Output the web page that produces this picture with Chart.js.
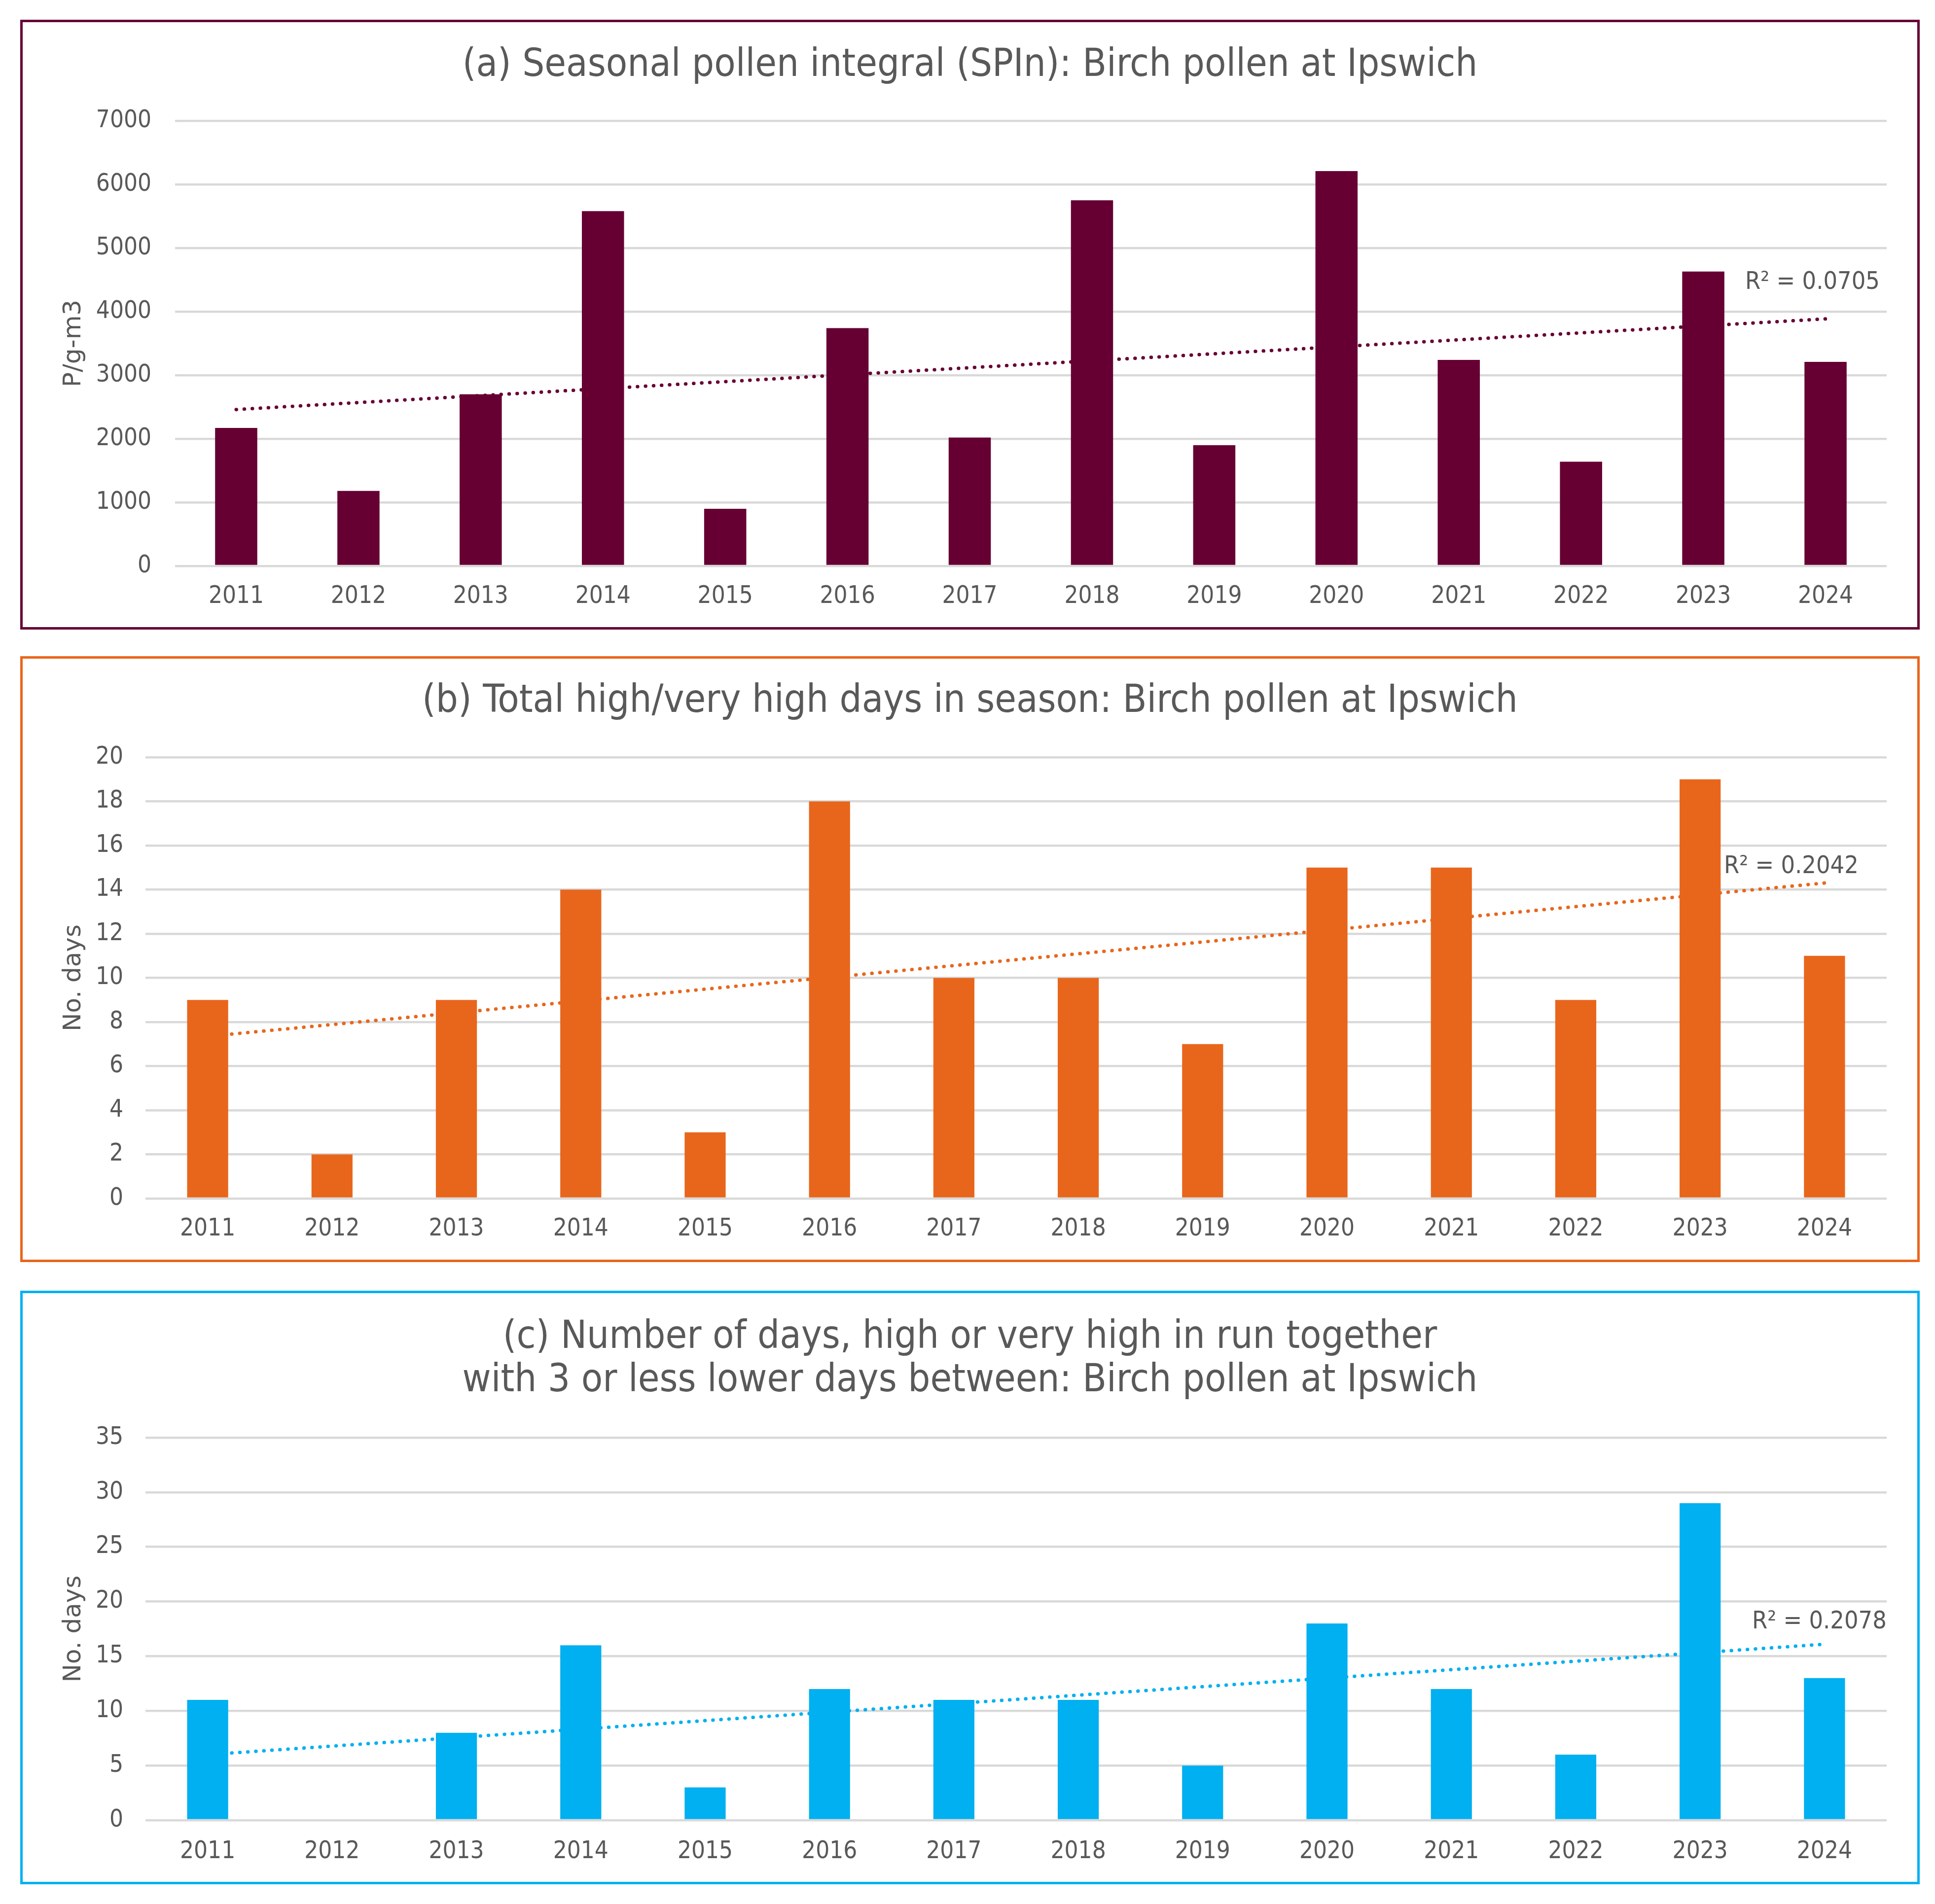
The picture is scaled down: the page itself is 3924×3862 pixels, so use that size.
<!DOCTYPE html>
<html>
<head>
<meta charset="utf-8">
<script src="https://cdn.jsdelivr.net/npm/chart.js@4.4.1/dist/chart.umd.min.js"></script>
<style>
  html, body { margin:0; padding:0; background:#ffffff; }
  body { width:3924px; height:3862px; position:relative; overflow:hidden; }
  .panel { position:absolute; box-sizing:border-box; border-style:solid; border-width:5px; background:#fff; }
  .panel canvas { position:absolute; left:0; top:0; }
</style>
</head>
<body>
<div class="panel" id="pa" style="left:41px;top:40px;width:3852px;height:1237px;border-color:#660033;"><canvas id="ca"></canvas></div>
<div class="panel" id="pb" style="left:41px;top:1331px;width:3852px;height:1229px;border-color:#E8661C;"><canvas id="cb"></canvas></div>
<div class="panel" id="pc" style="left:41px;top:2618px;width:3852px;height:1204px;border-color:#00B0F0;"><canvas id="cc"></canvas></div>
<script>
// ---------------- data ----------------
const years = ['2011','2012','2013','2014','2015','2016','2017','2018','2019','2020','2021','2022','2023','2024'];
const spinBirch = [2170, 1180, 2700, 5580, 900, 3740, 2020, 5750, 1900, 6210, 3240, 1640, 4630, 3210];
const highDays  = [9, 2, 9, 14, 3, 18, 10, 10, 7, 15, 15, 9, 19, 11];
const runDays   = [11, 0, 8, 16, 3, 12, 11, 11, 5, 18, 12, 6, 29, 13];
// linear trend line end values (at 2011 and 2024)
const trendA = [2460, 3885];
const trendB = [7.35, 14.3];
const trendC = [6.0, 16.1];
const r2Text = ['R\u00B2 = 0.0705', 'R\u00B2 = 0.2042', 'R\u00B2 = 0.2078'];
const titleA = '(a) Seasonal pollen integral (SPIn): Birch pollen at Ipswich';
const titleB = '(b) Total high/very high days in season: Birch pollen at Ipswich';
const titleC = ['(c) Number of days, high or very high in run together', 'with 3 or less lower days between: Birch pollen at Ipswich'];
const yTitleA = 'P/g-m3';
const yTitleB = 'No. days';
const yTitleC = 'No. days';
const yMaxA = 7000, yStepA = 1000;
const yMaxB = 20, yStepB = 2;
const yMaxC = 35, yStepC = 5;

// ---------------- styling ----------------
const TXT = '#595959';
const NARROW = "'DejaVu Sans Condensed', 'Liberation Sans Narrow', Roboto, sans-serif";
const REG = "'DejaVu Sans', Verdana, sans-serif";
const SIDE_PAD = 62;

const r2Plugin = {
  id: 'r2Label',
  afterDatasetsDraw(chart, args, opts) {
    const meta = chart.getDatasetMeta(1);
    const pts = meta.data;
    const pt = pts[pts.length - 1];
    const ctx = chart.ctx;
    ctx.save();
    ctx.font = opts.size + 'px ' + NARROW;
    ctx.fillStyle = TXT;
    ctx.textAlign = 'left';
    ctx.textBaseline = 'middle';
    ctx.fillText(opts.text, pt.x + opts.dx, pt.y + opts.dy);
    ctx.restore();
  }
};

function trendData(t) {
  return years.map((_, i) => i === 0 ? t[0] : (i === years.length - 1 ? t[1] : null));
}

function makeChart(id, w, h, cfg) {
  const cv = document.getElementById(id);
  cv.width = w; cv.height = h;
  cv.style.width = w + 'px'; cv.style.height = h + 'px';
  return new Chart(cv.getContext('2d'), {
    data: {
      labels: years,
      datasets: [
        { type: 'bar', data: cfg.values, backgroundColor: cfg.color, borderWidth: 0,
          barPercentage: cfg.barPct, categoryPercentage: 1.0, order: 2 },
        { type: 'line', data: trendData(cfg.trend), borderColor: cfg.color, borderWidth: 7,
          borderDash: [0.5, 15.8], borderCapStyle: 'round', pointRadius: 0, spanGaps: true,
          fill: false, tension: 0, order: 1 }
      ]
    },
    options: {
      responsive: false, animation: false, devicePixelRatio: 1,
      layout: { padding: { left: SIDE_PAD, right: SIDE_PAD, top: 0, bottom: 0 } },
      plugins: {
        legend: { display: false },
        tooltip: { enabled: false },
        title: {
          display: true, text: cfg.title, color: TXT,
          font: { family: NARROW, size: 79, weight: 'normal', lineHeight: 1.114 },
          padding: { top: cfg.titlePadTop, bottom: cfg.titlePadBottom }
        },
        r2Label: { text: cfg.r2, dx: cfg.r2dx, dy: cfg.r2dy, size: 50 }
      },
      scales: {
        x: {
          grid: { display: false, drawTicks: false },
          border: { display: false },
          ticks: { color: TXT, font: { family: NARROW, size: 49 }, padding: cfg.xPad, maxRotation: 0, autoSkip: false },
          afterFit(s) { s.height = cfg.xAxisH; }
        },
        y: {
          min: 0, max: cfg.yMax,
          grid: { color: '#D9D9D9', lineWidth: 4.5, drawTicks: false },
          border: { display: false },
          ticks: { stepSize: cfg.yStep, color: TXT, font: { family: NARROW, size: 49 }, padding: cfg.yPad,
                   callback: v => String(v) },
          title: { display: true, text: cfg.yTitle, color: TXT,
                   font: { family: REG, size: 50 }, padding: { top: 74 - SIDE_PAD, bottom: 0 } },
          afterFit(s) { s.width = cfg.yAxisW - SIDE_PAD; }
        }
      }
    },
    plugins: [r2Plugin]
  });
}

makeChart('ca', 3842, 1227, {
  values: spinBirch, trend: trendA, color: '#660033', barPct: 0.345,
  title: titleA, titlePadTop: 44, titlePadBottom: 68,
  yMax: yMaxA, yStep: yStepA, yTitle: yTitleA,
  yAxisW: 309, yPad: 48, xAxisH: 124, xPad: 33,
  r2: r2Text[0], r2dx: -163, r2dy: -74
});
makeChart('cb', 3842, 1219, {
  values: highDays, trend: trendB, color: '#E8661C', barPct: 0.33,
  title: titleB, titlePadTop: 43, titlePadBottom: 69,
  yMax: yMaxB, yStep: yStepB, yTitle: yTitleB,
  yAxisW: 249, yPad: 45, xAxisH: 124, xPad: 33,
  r2: r2Text[1], r2dx: -204, r2dy: -33
});
makeChart('cc', 3842, 1194, {
  values: runDays, trend: trendC, color: '#00B0F0', barPct: 0.33,
  title: titleC, titlePadTop: 46, titlePadBottom: 71,
  yMax: yMaxC, yStep: yStepC, yTitle: yTitleC,
  yAxisW: 249, yPad: 45, xAxisH: 125, xPad: 35,
  r2: r2Text[2], r2dx: -147, r2dy: -45
});
</script>
</body>
</html>
